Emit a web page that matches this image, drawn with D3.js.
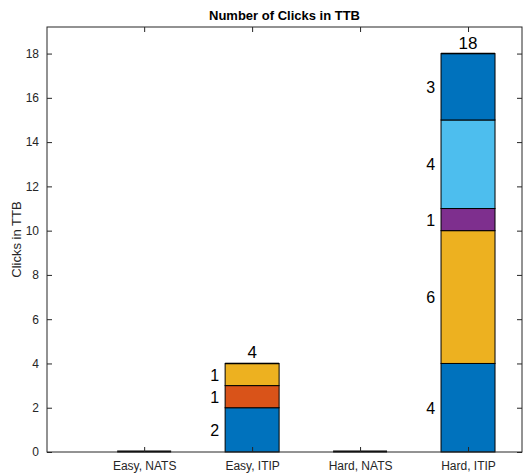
<!DOCTYPE html>
<html><head><meta charset="utf-8">
<script src="https://cdn.jsdelivr.net/npm/d3@7"></script>
<style>body{margin:0;background:#fff}svg{display:block}text{font-family:"Liberation Sans",Arial,sans-serif}</style>
</head><body>
<svg id="c" width="526" height="476"></svg>
<script>
const categories = ["Easy, NATS", "Easy, ITIP", "Hard, NATS", "Hard, ITIP"];
// stacked series values (segments bottom to top) per category
const s1 = [0, 2, 0, 4];
const s2 = [0, 1, 0, 0];
const s3 = [0, 1, 0, 6];
const s4 = [0, 0, 0, 1];
const s5 = [0, 0, 0, 0];
const s6 = [0, 0, 0, 4];
const s7 = [0, 0, 0, 0];
const s8 = [0, 0, 0, 3];
const seriesColors = ["#0072BD","#D95319","#EDB120","#7E2F8E","#77AC30","#4DBEEE","#A2142F","#0072BD"];
const yTicks = [0,2,4,6,8,10,12,14,16,18];
const title = "Number of Clicks in TTB";
const yLabel = "Clicks in TTB";

const series = [s1,s2,s3,s4,s5,s6,s7,s8];
const svg = d3.select("#c");
const L = 47, R = 522, T = 27, B = 452;
const x = d3.scaleLinear().domain([0.1, 4.5]).range([L, R]);
const y = d3.scaleLinear().domain([0, 19.2]).range([B, T]);
const bw = x(1.5) - x(1);
const axisCol = "#262626";

// bars
const table = categories.map((c, i) => {
  const o = {cat: c};
  series.forEach((s, k) => o["s" + k] = s[i]);
  return o;
});
const stack = d3.stack().keys(series.map((s, k) => "s" + k))(table);
stack.forEach((layer, k) => {
  layer.forEach((d, i) => {
    const h = y(d[0]) - y(d[1]);
    if (h > 0) {
      svg.append("rect")
        .attr("x", x(i + 1) - bw / 2)
        .attr("y", y(d[1]))
        .attr("width", bw)
        .attr("height", h)
        .attr("fill", seriesColors[k])
        .attr("stroke", "#000")
        .attr("stroke-width", 1);
    } else if (k === 0 && d[1] === 0) {
      svg.append("line")
        .attr("x1", x(i + 1) - bw / 2).attr("x2", x(i + 1) + bw / 2)
        .attr("y1", y(0) - 0.5).attr("y2", y(0) - 0.5)
        .attr("stroke", "#000").attr("stroke-width", 2);
    }
    if (series[k][i] > 0) {
      svg.append("text")
        .attr("x", x(i + 1) - bw / 2 - 6)
        .attr("y", y((d[0] + d[1]) / 2) + 6)
        .attr("text-anchor", "end")
        .attr("font-size", 16)
        .attr("fill", "#000")
        .text(series[k][i]);
    }
  });
});
// totals
categories.forEach((c, i) => {
  const tot = d3.sum(series, s => s[i]);
  if (tot > 0) {
    svg.append("text")
      .attr("x", x(i + 1))
      .attr("y", y(tot) - 5)
      .attr("text-anchor", "middle")
      .attr("font-size", 17)
      .attr("fill", "#000")
      .text(tot);
    svg.append("line")
      .attr("x1", x(i + 1) - bw / 2).attr("x2", x(i + 1) + bw / 2)
      .attr("y1", y(tot)).attr("y2", y(tot))
      .attr("stroke", "#000").attr("stroke-width", 1.5);
  }
});

// axes
svg.append("rect").attr("x", L).attr("y", T).attr("width", R - L).attr("height", B - T)
  .attr("fill", "none").attr("stroke", axisCol).attr("stroke-width", 1);
const yAxis = d3.axisLeft(y).tickValues(yTicks).tickSizeInner(-5).tickSizeOuter(0).tickPadding(8);
const ga = svg.append("g").attr("transform", `translate(${L},0)`).call(yAxis);
ga.select(".domain").remove();
ga.selectAll("line").attr("stroke", axisCol);
ga.selectAll("text").attr("font-size", 12).attr("fill", axisCol).attr("font-family", "Liberation Sans, Arial, sans-serif");
const yAxisR = d3.axisRight(y).tickValues(yTicks).tickSizeInner(-5).tickSizeOuter(0).tickFormat("");
const gr = svg.append("g").attr("transform", `translate(${R},0)`).call(yAxisR);
gr.select(".domain").remove();
gr.selectAll("line").attr("stroke", axisCol);

const xAxis = d3.axisBottom(x).tickValues([1,2,3,4]).tickFormat((d) => categories[d - 1]).tickSizeInner(-5).tickSizeOuter(0).tickPadding(9);
const gx = svg.append("g").attr("transform", `translate(0,${B})`).call(xAxis);
gx.select(".domain").remove();
gx.selectAll("line").attr("stroke", axisCol);
gx.selectAll("text").attr("font-size", 12).attr("fill", axisCol).attr("font-family", "Liberation Sans, Arial, sans-serif");
const xAxisT = d3.axisTop(x).tickValues([1,2,3,4]).tickSizeInner(-5).tickSizeOuter(0).tickFormat("");
const gt = svg.append("g").attr("transform", `translate(0,${T})`).call(xAxisT);
gt.select(".domain").remove();
gt.selectAll("line").attr("stroke", axisCol);

svg.append("text").attr("x", (L + R) / 2).attr("y", 20).attr("text-anchor", "middle")
  .attr("font-size", 13).attr("font-weight", "bold").attr("fill", "#000").text(title);
svg.append("text").attr("transform", `translate(21,${(T + B) / 2}) rotate(-90)`)
  .attr("text-anchor", "middle").attr("font-size", 13).attr("fill", axisCol).text(yLabel);
</script>
</body></html>
